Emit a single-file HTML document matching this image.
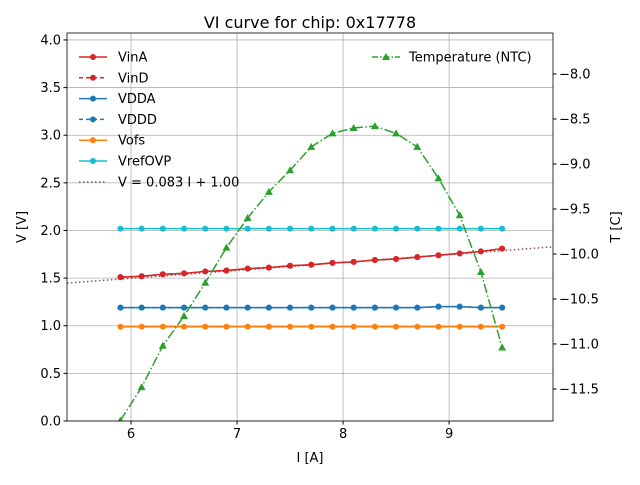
<!DOCTYPE html>
<html><head><meta charset="utf-8"><style>
body{margin:0;background:#fff;}
svg text{font-family:"DejaVu Sans","Liberation Sans",sans-serif;}
</style></head><body>
<svg id="chart" width="640" height="480" xmlns="http://www.w3.org/2000/svg"></svg>
<script>
const currents=[5.9,6.1,6.3,6.5,6.7,6.9,7.1,7.3,7.5,7.7,7.9,8.1,8.3,8.5,8.7,8.9,9.1,9.3,9.5];
const vinA=[1.51,1.52,1.54,1.55,1.57,1.58,1.60,1.61,1.63,1.64,1.66,1.67,1.69,1.70,1.72,1.74,1.76,1.78,1.81];
const vinD=[1.51,1.52,1.54,1.55,1.57,1.58,1.60,1.61,1.63,1.64,1.66,1.67,1.69,1.70,1.72,1.74,1.76,1.78,1.81];
const vdda=[1.19,1.19,1.19,1.19,1.19,1.19,1.19,1.19,1.19,1.19,1.19,1.19,1.19,1.19,1.19,1.20,1.20,1.19,1.19];
const vddd=[1.19,1.19,1.19,1.19,1.19,1.19,1.19,1.19,1.19,1.19,1.19,1.19,1.19,1.19,1.19,1.20,1.20,1.19,1.19];
const vofs=[0.99,0.99,0.99,0.99,0.99,0.99,0.99,0.99,0.99,0.99,0.99,0.99,0.99,0.99,0.99,0.99,0.99,0.99,0.99];
const vref=[2.02,2.02,2.02,2.02,2.02,2.02,2.02,2.02,2.02,2.02,2.02,2.02,2.02,2.02,2.02,2.02,2.02,2.02,2.02];
const temps=[-11.85,-11.48,-11.02,-10.69,-10.32,-9.93,-9.60,-9.31,-9.07,-8.81,-8.66,-8.60,-8.58,-8.66,-8.81,-9.16,-9.57,-10.20,-11.04];
const fitSlope=0.083, fitIntercept=1.00;
const xTicks=[6,7,8,9];
const yTicks=[0,0.5,1.0,1.5,2.0,2.5,3.0,3.5,4.0];
const tTicks=[-8.0,-8.5,-9.0,-9.5,-10.0,-10.5,-11.0,-11.5];

const L=67,R=553,T=33,B=421;
const xmin=5.396,xmax=9.98,ymin=0,ymax=4.073,tmin=-11.856,tmax=-7.545;
const X=v=>L+(v-xmin)/(xmax-xmin)*(R-L);
const Y=v=>B-(v-ymin)/(ymax-ymin)*(B-T);
const TY=v=>B-(v-tmin)/(tmax-tmin)*(B-T);
const svg=document.getElementById('chart');
const NS='http://www.w3.org/2000/svg';
function mk(tag,attrs,parent){const e=document.createElementNS(NS,tag);for(const k in attrs)e.setAttribute(k,attrs[k]);(parent||svg).appendChild(e);return e;}
function txt(s,x,y,attrs){const e=mk('text',Object.assign({x:x,y:y,'font-size':13,fill:'#000'},attrs||{}));e.textContent=s;return e;}

xTicks.forEach(v=>{const g=mk('line',{x1:X(v),x2:X(v),y1:T,y2:B,stroke:'#b0b0b0','stroke-width':0.8});

});
yTicks.forEach(v=>{const g=mk('line',{x1:L,x2:R,y1:Y(v),y2:Y(v),stroke:'#b0b0b0','stroke-width':0.8});

});

const fit=mk('line',{x1:L,x2:R,y1:Y(fitSlope*xmin+fitIntercept),y2:Y(fitSlope*xmax+fitIntercept),stroke:'#8c564b','stroke-width':1.5,'stroke-dasharray':'1.5,2.5'});



function series(vals,color,dash,name,yf,marker){
  const g=mk('g',{});
  
  
  const pts=currents.map((c,i)=>X(c)+','+yf(vals[i])).join(' ');
  const cp=mk('clipPath',{id:'c'+name});mk('rect',{x:L,y:T,width:R-L,height:B-T},cp);
  const inner=mk('g',{'clip-path':'url(#c'+name+')'},g);
  mk('polyline',{points:pts,fill:'none',stroke:color,'stroke-width':1.5,'stroke-dasharray':dash||''},inner);
  currents.forEach((c,i)=>{
    let m;
    if(marker==='tri'){const x=X(c),y=yf(vals[i]);m=mk('polygon',{points:`${x},${y-4} ${x-4},${y+3} ${x+4},${y+3}`,fill:color},inner);}
    else m=mk('circle',{cx:X(c),cy:yf(vals[i]),r:3,fill:color},inner);
    
    
  });
}
series(vofs,'#ff7f0e','', 'vofs-series',Y);
series(vref,'#17becf','', 'vrefovp-series',Y);
series(vdda,'#1f77b4','', 'vdda-series',Y);
series(vddd,'#1f77b4','5.5,2.4','vddd-series',Y);
series(vinA,'#d62728','', 'vina-series',Y);
series(vinD,'#d62728','5.5,2.4','vind-series',Y);
series(temps,'#2ca02c','9.6,2.4,1.5,2.4','temperature-series',TY,'tri');

const fr=mk('rect',{x:L,y:T,width:R-L,height:B-T,fill:'none',stroke:'#000','stroke-width':0.8});



xTicks.forEach(v=>{mk('line',{x1:X(v),x2:X(v),y1:B,y2:B+3.5,stroke:'#000'});
const t=txt(String(v),X(v),B+17,{'text-anchor':'middle'});

});
yTicks.forEach(v=>{mk('line',{x1:L-3.5,x2:L,y1:Y(v),y2:Y(v),stroke:'#000'});
const t=txt(v.toFixed(1),L-6,Y(v)+4.5,{'text-anchor':'end'});

});
tTicks.forEach(v=>{mk('line',{x1:R,x2:R+3.5,y1:TY(v),y2:TY(v),stroke:'#000'});
const t=txt('\u2212'+Math.abs(v).toFixed(1),R+6,TY(v)+4.5);

});

let e;
e=txt('VI curve for chip: 0x17778',310,28,{'text-anchor':'middle','font-size':16});

e=txt('I [A]',310,462,{'text-anchor':'middle'});

e=txt('V [V]',0,0,{'text-anchor':'middle',transform:'translate(26,227) rotate(-90)'});

e=txt('T [C]',0,0,{'text-anchor':'middle',transform:'translate(620,227) rotate(-90)'});


const legend=[['VinA','#d62728','',0],['VinD','#d62728','4,3',1],['VDDA','#1f77b4','',0],['VDDD','#1f77b4','4,3',1],['Vofs','#ff7f0e','',0],['VrefOVP','#17becf','',0]];
legend.forEach((l,i)=>{const y=57+i*20.8;const g=mk('g',{});


mk('line',{x1:79,x2:107,y1:y,y2:y,stroke:l[1],'stroke-width':1.5,'stroke-dasharray':l[2]},g);
mk('circle',{cx:93,cy:y,r:3,fill:l[1]},g);
const t=txt(l[0],118,y+4.5);g.appendChild(t);});
const fg=mk('g',{});


mk('line',{x1:79,x2:107,y1:182,y2:182,stroke:'#8c564b','stroke-width':1.5,'stroke-dasharray':'1.5,2.5'},fg);
fg.appendChild(txt('V = 0.083 I + 1.00',118,186.5));
const tg=mk('g',{});


mk('line',{x1:372,x2:400,y1:57,y2:57,stroke:'#2ca02c','stroke-width':1.5,'stroke-dasharray':'6,2,1.5,2'},tg);
mk('polygon',{points:'386,53 382,60 390,60',fill:'#2ca02c'},tg);
tg.appendChild(txt('Temperature (NTC)',409,61.5));
</script>
</body></html>
